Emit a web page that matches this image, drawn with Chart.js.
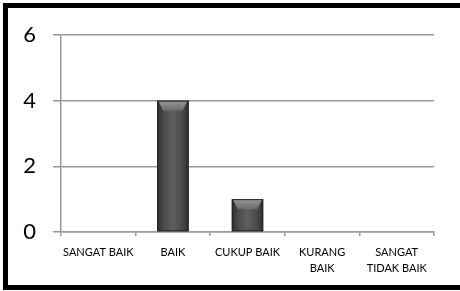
<!DOCTYPE html>
<html lang="id">
<head>
<meta charset="UTF-8">
<title>Grafik</title>
<style>
  body { margin: 0; background: #fff; overflow: hidden; }
  #wadah { position: absolute; left: 0; top: 0; width: 460px; height: 291px; }
</style>
</head>
<body>
<div id="wadah"><canvas id="grafik1" width="460" height="291"></canvas></div>

<script src="https://cdn.jsdelivr.net/npm/chart.js"></script>
<script>
  const kategori = ['SANGAT BAIK', 'BAIK', 'CUKUP BAIK', ['KURANG', 'BAIK'], ['SANGAT', 'TIDAK BAIK']]
  const nilai = [0, 4, 1, 0, 0]
  const tickY = [0, 2, 4, 6]

  // bingkai hitam (kiri, atas, bawah) di sekeliling grafik
  const bingkai = {
    id: 'bingkai',
    beforeDraw(chart) {
      const c = chart.ctx
      c.save()
      c.fillStyle = '#fff'
      c.fillRect(0, 0, chart.width, chart.height)
      c.fillStyle = '#000'
      c.fillRect(3, 3, chart.width - 3, 5)
      c.fillRect(3, 3, 5, 287)
      c.fillRect(3, 285, chart.width - 3, 5)
      c.restore()
    }
  }

  // efek batang 3D: gradien + bevel atas, digambar dari posisi elemen chart
  const efekBatang = {
    id: 'efekBatang',
    afterDatasetsDraw(chart) {
      const c = chart.ctx
      chart.getDatasetMeta(0).data.forEach((bar, i) => {
        if (!nilai[i]) return
        const l = bar.x - bar.width / 2, r = bar.x + bar.width / 2
        const t = bar.y, b = bar.base
        const g = c.createLinearGradient(l, 0, r, 0)
        g.addColorStop(0, '#2e2e2e')
        g.addColorStop(0.2, '#4a4a4a')
        g.addColorStop(0.5, '#5e5e5e')
        g.addColorStop(0.8, '#4a4a4a')
        g.addColorStop(1, '#2e2e2e')
        c.save()
        c.fillStyle = g
        c.fillRect(l, t, r - l, b - t)
        const bev = Math.min(10, (b - t) / 2)
        const g2 = c.createLinearGradient(0, t, 0, t + bev)
        g2.addColorStop(0, '#9a9a9a')
        g2.addColorStop(1, '#6a6a6a')
        c.fillStyle = g2
        c.beginPath()
        c.moveTo(l + 1, t)
        c.lineTo(r - 1, t)
        c.lineTo(r - 6, t + bev)
        c.lineTo(l + 6, t + bev)
        c.closePath()
        c.fill()
        c.strokeStyle = '#222'
        c.lineWidth = 1
        c.strokeRect(l + 0.5, t + 0.5, r - l - 1, b - t - 1)
        c.restore()
      })
    }
  }

  const ctx = document.getElementById('grafik1')
  new Chart(ctx, {
    type: 'bar',
    data: {
      labels: kategori,
      datasets: [{
        data: nilai,
        backgroundColor: '#505050',
        categoryPercentage: 1,
        barPercentage: 0.42
      }]
    },
    plugins: [bingkai, efekBatang],
    options: {
      responsive: false,
      animation: false,
      devicePixelRatio: 1,
      layout: { padding: { top: 35, right: 26, left: 0, bottom: 0 } },
      plugins: { legend: { display: false }, tooltip: { enabled: false } },
      scales: {
        y: {
          min: 0, max: 6,
          afterBuildTicks: s => { s.ticks = tickY.map(v => ({ value: v })) },
          afterFit: s => { s.width = 61 },
          border: { color: '#999', width: 1.5 },
          grid: { color: '#999', lineWidth: 1.5, tickLength: 8 },
          ticks: { padding: 17, color: '#000', font: { family: 'Lato', size: 22 } }
        },
        x: {
          afterFit: s => { s.height = 59 },
          border: { color: '#999', width: 1.5 },
          grid: { display: true, drawOnChartArea: false, offset: true, color: '#999', lineWidth: 1.5, tickLength: 4 },
          ticks: { padding: 9, maxRotation: 0, autoSkip: false, color: '#000', font: { family: 'Lato', size: 11, lineHeight: 1.4 } }
        }
      }
    }
  })
</script>
</body>
</html>
